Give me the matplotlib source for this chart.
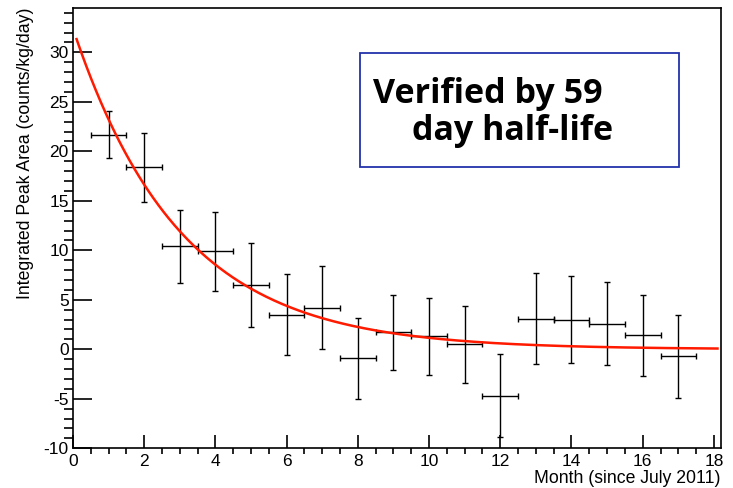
import numpy as np
import matplotlib.pyplot as plt
from matplotlib.ticker import MultipleLocator

# monthly points
months = [1, 2, 3, 4, 5, 6, 7, 8, 9, 10, 11, 12, 13, 14, 15, 16, 17]
peak_area = [21.7, 18.4, 10.4, 9.9, 6.5, 3.5, 4.2, -0.9, 1.7, 1.3, 0.5, -4.7, 3.1, 3.0, 2.6, 1.4, -0.7]
peak_err = [2.4, 3.5, 3.7, 4.0, 4.2, 4.1, 4.2, 4.1, 3.8, 3.9, 3.9, 4.2, 4.6, 4.4, 4.2, 4.1, 4.2]
month_err = 0.5

# exponential fit parameters (estimated from the red curve)
fit_amp = 32.4
fit_halflife = 2.08   # months
fit_start, fit_end = 0.1, 18.1

plt.rcParams['font.family'] = ['Liberation Sans', 'DejaVu Sans']
plt.rcParams['axes.unicode_minus'] = False

fig = plt.figure(figsize=(7.33, 4.88), dpi=100)
ax = fig.add_axes([0.0996, 0.0814, 0.8836, 0.9026])

ax.errorbar(months, peak_area, xerr=month_err, yerr=peak_err, fmt='none',
            ecolor='black', elinewidth=1.0, capsize=2.5, capthick=1.0)

xf = np.linspace(fit_start, fit_end, 400)
ax.plot(xf, fit_amp * np.exp(-np.log(2) * xf / fit_halflife), color='#ff1a00', lw=1.8)

ax.set_xlim(0, 18.19)
ax.set_ylim(-10, 34.5)
ax.xaxis.set_major_locator(MultipleLocator(2))
ax.xaxis.set_minor_locator(MultipleLocator(0.5))
ax.yaxis.set_major_locator(MultipleLocator(5))
ax.yaxis.set_minor_locator(MultipleLocator(1))
ax.tick_params(direction='in', top=False, right=False, labelsize=12.5, width=1.2)
ax.tick_params(axis='y', which='major', length=14, pad=3)
ax.tick_params(axis='y', which='minor', length=6.8, width=1.2)
ax.tick_params(axis='x', which='major', length=9.4, pad=4)
ax.tick_params(axis='x', which='minor', length=4.3, width=1.2)
for s in ax.spines.values():
    s.set_linewidth(1.2)

ax.set_xlabel('Month (since July 2011)', fontsize=12.7, ha='right', va='top')
ax.xaxis.set_label_coords(1.0, -0.049)
ax.set_ylabel('Integrated Peak Area (counts/kg/day)', fontsize=12.7, ha='right', va='center')
ax.yaxis.set_label_coords(-0.074, 1.0)

# annotation box
box = plt.Rectangle((360 / 733, 1 - 167 / 488), 319 / 733, 114 / 488, transform=fig.transFigure,
                    fill=False, edgecolor='#2233aa', lw=1.3)
fig.add_artist(box)
fig.text(373 / 733, 1 - 103 / 488, 'Verified by 59', fontsize=24.5, fontweight='bold',
         family=['Open Sans', 'DejaVu Sans'], va='baseline', ha='left')
fig.text(412 / 733, 1 - 140 / 488, 'day half-life', fontsize=24.5, fontweight='bold',
         family=['Open Sans', 'DejaVu Sans'], va='baseline', ha='left')

fig.savefig('out.png', dpi=100)
